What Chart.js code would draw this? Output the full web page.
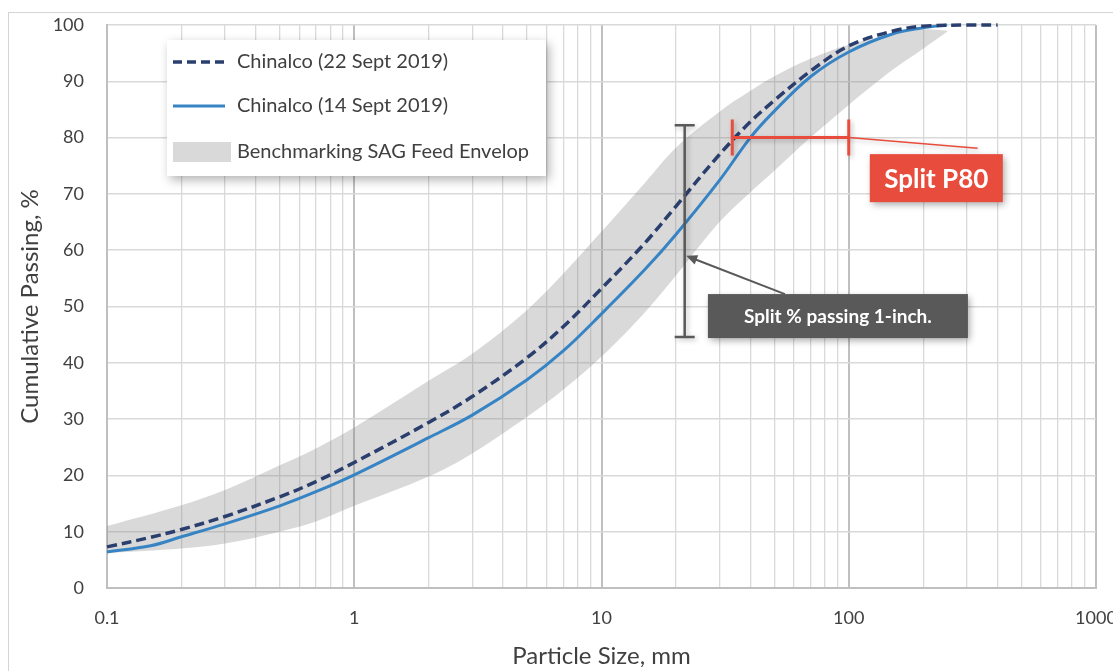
<!DOCTYPE html>
<html>
<head>
<meta charset="utf-8">
<script src="https://cdn.jsdelivr.net/npm/chart.js"></script>
<style>
  html, body { margin: 0; padding: 0; background: #ffffff; overflow: hidden; width: 1113px; height: 671px; }
  #frame { position: absolute; left: 8px; top: 12px; width: 1300px; height: 900px; border: 1.5px solid #D4D4D4; box-sizing: border-box; }
  #c { position: absolute; left: 0; top: 0; }
</style>
</head>
<body>
<div id="frame"></div>
<canvas id="c" width="1126" height="671"></canvas>
<script>
// ---------- data ----------
const sizes22 = [0.1, 0.15, 0.2, 0.3, 0.5, 0.7, 1, 2, 3, 5, 7, 10, 15, 20, 30, 40, 50, 70, 100, 150, 200, 300, 400];
const pass22  = [7.3, 9.0, 10.4, 12.7, 16.2, 18.9, 22.3, 29.4, 34.0, 40.9, 46.4, 53.2, 61.3, 67.8, 77.0, 82.8, 86.6, 91.8, 96.3, 98.9, 99.8, 100, 100];

const sizes14 = [0.1, 0.15, 0.2, 0.3, 0.5, 0.7, 1, 2, 3, 5, 7, 10, 15, 20, 30, 40, 50, 70, 100, 150, 200, 250];
const pass14  = [6.4, 7.5, 9.1, 11.4, 14.6, 17.1, 20.1, 26.7, 30.7, 37.0, 42.1, 48.7, 56.6, 62.8, 72.4, 80.0, 84.7, 90.8, 95.2, 98.4, 99.5, 100];

const envSizes = [0.1, 0.2, 0.3, 0.5, 0.7, 1, 2, 3, 5, 7, 10, 15, 20, 30, 40, 50, 70, 100, 150, 200, 250];
const envUpper = [11.0, 14.7, 17.4, 21.8, 24.8, 28.5, 36.8, 41.6, 49.4, 55.8, 63.3, 72.0, 78.2, 84.6, 88.3, 90.9, 94.0, 96.5, 98.3, 99.2, 99.0];
const envLower = [6.2, 7.0, 7.9, 10.0, 11.8, 14.6, 19.8, 23.9, 30.4, 35.2, 41.1, 49.0, 55.5, 65.0, 70.3, 74.1, 80.0, 85.8, 92.0, 95.8, 98.8];

const seriesLabels = ['Chinalco (22 Sept 2019)', 'Chinalco (14 Sept 2019)', 'Benchmarking SAG Feed Envelop'];

const xMajorTicks = [0.1, 1, 10, 100, 1000];
const xTickLabels = ['0.1', '1', '10', '100', '1000'];
const yTickValues = [0, 10, 20, 30, 40, 50, 60, 70, 80, 90, 100];
const xTitle = 'Particle Size, mm';
const yTitle = 'Cumulative Passing, %';

// annotation values (data units)
const splitInchSize = 21.7;           // mm
const splitInchRange = [44.6, 82.2];  // % passing
const splitInchArrowTip = 59.0;       // % passing
const splitInchText = 'Split % passing 1-inch.';
const p80Level = 80;
const p80Range = [33.8, 100];         // mm
const p80Text = 'Split P80';

// ---------- helpers ----------
const FONT = 'Lato, "Open Sans", "DejaVu Sans", sans-serif';
const TXT = '#404040';
const NAVY = '#2B3F6E';
const BLUE = '#3784C4';
const BAND = 'rgba(128,128,128,0.30)';
const RED = '#E84C3D';
const DARK = '#595959';

const isMajor = v => Math.abs(Math.log10(v) - Math.round(Math.log10(v))) < 1e-9;
const gridValues = [];
xMajorTicks.forEach((m, i) => {
  if (i === xMajorTicks.length - 1) { gridValues.push(m); return; }
  for (let k = 1; k <= 9; k++) gridValues.push(m * k);
});
const pts = (xs, ys) => xs.map((x, i) => ({ x: x, y: ys[i] }));

// ---------- plugins ----------
const annotations = {
  id: 'annotations',
  afterDatasetsDraw(chart) {
    const { ctx, scales: { x, y } } = chart;
    ctx.save();

    // --- split 1-inch bar ---
    const bx = x.getPixelForValue(splitInchSize);
    const by1 = y.getPixelForValue(splitInchRange[1]);
    const by2 = y.getPixelForValue(splitInchRange[0]);
    ctx.shadowColor = 'rgba(0,0,0,0.25)';
    ctx.shadowBlur = 5; ctx.shadowOffsetX = 2; ctx.shadowOffsetY = 2;
    ctx.strokeStyle = DARK; ctx.lineWidth = 2.5;
    ctx.beginPath();
    ctx.moveTo(bx, by1); ctx.lineTo(bx, by2);
    ctx.moveTo(bx - 10, by1); ctx.lineTo(bx + 10, by1);
    ctx.moveTo(bx - 10, by2); ctx.lineTo(bx + 10, by2);
    ctx.stroke();

    // callout box (dark)
    const boxCx = x.getPixelForValue(90.4), boxCy = y.getPixelForValue(48.3);
    const bw = 260, bh = 44;
    ctx.shadowColor = 'rgba(0,0,0,0.35)';
    ctx.shadowBlur = 7; ctx.shadowOffsetX = 2; ctx.shadowOffsetY = 3;
    ctx.fillStyle = DARK;
    ctx.fillRect(boxCx - bw / 2, boxCy - bh / 2, bw, bh);
    ctx.shadowColor = 'transparent';

    // arrow from box to bar
    const tipX = bx + 1.5, tipY = y.getPixelForValue(splitInchArrowTip);
    const tailX = x.getPixelForValue(55.2), tailY = boxCy - bh / 2;
    ctx.strokeStyle = DARK; ctx.fillStyle = DARK; ctx.lineWidth = 2;
    const ang = Math.atan2(tipY - tailY, tipX - tailX);
    ctx.beginPath();
    ctx.moveTo(tailX, tailY);
    ctx.lineTo(tipX - 8 * Math.cos(ang), tipY - 8 * Math.sin(ang));
    ctx.stroke();
    ctx.beginPath();
    ctx.moveTo(tipX, tipY);
    ctx.lineTo(tipX - 11 * Math.cos(ang) + 5 * Math.sin(ang), tipY - 11 * Math.sin(ang) - 5 * Math.cos(ang));
    ctx.lineTo(tipX - 11 * Math.cos(ang) - 5 * Math.sin(ang), tipY - 11 * Math.sin(ang) + 5 * Math.cos(ang));
    ctx.closePath();
    ctx.fill();

    ctx.fillStyle = '#FFFFFF';
    ctx.font = 'bold 19px ' + FONT;
    ctx.textAlign = 'center'; ctx.textBaseline = 'middle';
    ctx.fillText(splitInchText, boxCx, boxCy + 1);

    // --- P80 bar ---
    const py = y.getPixelForValue(p80Level);
    const px1 = x.getPixelForValue(p80Range[0]);
    const px2 = x.getPixelForValue(p80Range[1]);
    ctx.shadowColor = 'rgba(0,0,0,0.25)';
    ctx.shadowBlur = 5; ctx.shadowOffsetX = 2; ctx.shadowOffsetY = 2;
    ctx.strokeStyle = RED; ctx.lineWidth = 3;
    ctx.beginPath();
    ctx.moveTo(px1, py); ctx.lineTo(px2, py);
    ctx.moveTo(px1, py - 18); ctx.lineTo(px1, py + 18);
    ctx.moveTo(px2, py - 18); ctx.lineTo(px2, py + 18);
    ctx.stroke();
    // leader
    ctx.lineWidth = 1.5;
    ctx.beginPath();
    ctx.moveTo(px2, py);
    ctx.lineTo(x.getPixelForValue(332), y.getPixelForValue(78.1));
    ctx.stroke();
    // red box
    const rCx = x.getPixelForValue(226), rCy = y.getPixelForValue(72.8);
    const rw = 133, rh = 48;
    ctx.shadowColor = 'rgba(0,0,0,0.35)';
    ctx.shadowBlur = 7; ctx.shadowOffsetX = 2; ctx.shadowOffsetY = 3;
    ctx.fillStyle = RED;
    ctx.fillRect(rCx - rw / 2, rCy - rh / 2, rw, rh);
    ctx.shadowColor = 'transparent';
    ctx.fillStyle = '#FFFFFF';
    ctx.font = 'bold 26px ' + FONT;
    ctx.fillText(p80Text, rCx, rCy + 1);

    ctx.restore();
  },
  afterDraw(chart) {
    const ctx = chart.ctx;
    const ds = chart.data.datasets;
    ctx.save();
    // legend box
    ctx.shadowColor = 'rgba(0,0,0,0.30)';
    ctx.shadowBlur = 10; ctx.shadowOffsetX = 3; ctx.shadowOffsetY = 4;
    ctx.fillStyle = '#FFFFFF';
    ctx.fillRect(167, 40, 379, 136);
    ctx.shadowColor = 'transparent';

    const rows = [62, 106, 152];
    // dashed sample
    ctx.strokeStyle = ds[0].borderColor; ctx.lineWidth = 3.5;
    ctx.setLineDash([9, 5]);
    ctx.beginPath(); ctx.moveTo(173, rows[0]); ctx.lineTo(225, rows[0]); ctx.stroke();
    ctx.setLineDash([]);
    // solid sample
    ctx.strokeStyle = ds[1].borderColor; ctx.lineWidth = 3;
    ctx.beginPath(); ctx.moveTo(173, rows[1]); ctx.lineTo(225, rows[1]); ctx.stroke();
    // band sample
    ctx.fillStyle = '#D9D9D9';
    ctx.fillRect(173, rows[2] - 10, 58, 20);

    ctx.fillStyle = TXT;
    ctx.font = '20px ' + FONT;
    ctx.textAlign = 'left'; ctx.textBaseline = 'middle';
    ctx.fillText(ds[0].label, 237, rows[0]);
    ctx.fillText(ds[1].label, 237, rows[1]);
    ctx.fillText(ds[2].label, 237, rows[2]);
    ctx.restore();
  }
};

// ---------- chart ----------
new Chart(document.getElementById('c'), {
  type: 'line',
  data: {
    datasets: [
      { label: seriesLabels[0], data: pts(sizes22, pass22), borderColor: NAVY, borderWidth: 3.5,
        borderDash: [10, 5], fill: false, order: 1, clip: false, tension: 0.35 },
      { label: seriesLabels[1], data: pts(sizes14, pass14), borderColor: BLUE, borderWidth: 3,
        fill: false, order: 2, clip: false, tension: 0.35 },
      { label: seriesLabels[2], data: pts(envSizes, envUpper), borderWidth: 0, borderColor: 'rgba(0,0,0,0)',
        backgroundColor: BAND, fill: 3, order: 3, tension: 0.35 },
      { label: seriesLabels[2] + ' (lower)', data: pts(envSizes, envLower), borderWidth: 0, borderColor: 'rgba(0,0,0,0)',
        fill: false, order: 4, tension: 0.35 }
    ]
  },
  options: {
    responsive: false,
    animation: false,
    layout: { padding: { left: 10, top: 25, right: 30, bottom: 0 } },
    elements: { point: { radius: 0 } },
    plugins: { legend: { display: false }, tooltip: { enabled: false } },
    scales: {
      x: {
        type: 'logarithmic', min: 0.1, max: 1000,
        afterBuildTicks: s => { s.ticks = gridValues.map(v => ({ value: v })); },
        afterFit: s => { s.height = 83; s.paddingLeft = 0; s.paddingRight = 0; },
        grid: {
          color: c => (c.tick && isMajor(c.tick.value)) ? '#BFBFBF' : '#D9D9D9',
          lineWidth: c => (c.tick && isMajor(c.tick.value)) ? 2 : 1.3,
          drawTicks: false
        },
        border: { color: '#BFBFBF', width: 2 },
        ticks: {
          autoSkip: false, maxRotation: 0, minRotation: 0, padding: 19,
          font: { family: FONT, size: 18 }, color: TXT,
          callback: (v) => {
            const i = xMajorTicks.findIndex(m => Math.abs(m - v) / m < 1e-9);
            return i >= 0 ? xTickLabels[i] : '';
          }
        },
        title: { display: true, text: xTitle, color: TXT, font: { family: FONT, size: 24 }, padding: { top: 0, bottom: 0 } }
      },
      y: {
        min: 0, max: 100,
        afterBuildTicks: s => { s.ticks = yTickValues.map(v => ({ value: v })); },
        afterFit: s => { s.width = 97; s.paddingTop = 0; s.paddingBottom = 0; },
        grid: { color: '#D9D9D9', lineWidth: 1.5, drawTicks: false },
        border: { color: '#BFBFBF', width: 2 },
        ticks: { padding: 23, font: { family: FONT, size: 18 }, color: TXT },
        title: { display: true, text: yTitle, color: TXT, font: { family: FONT, size: 24 }, padding: { top: 5.6, bottom: 0 } }
      }
    }
  },
  plugins: [annotations]
});
</script>
</body>
</html>
